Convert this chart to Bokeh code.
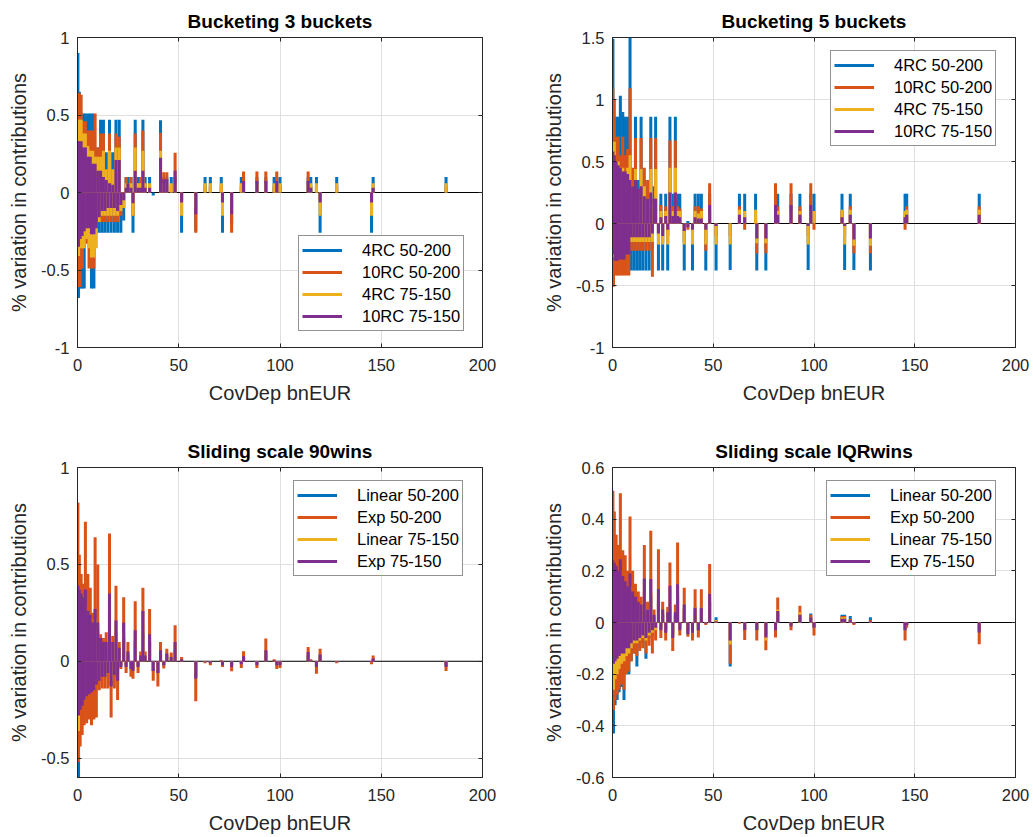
from bokeh.plotting import figure
from bokeh.layouts import column, row
from bokeh.models import (Range1d, FixedTicker, CustomJSTickFormatter, LinearAxis,
                          Span, Legend, LegendItem, ColumnDataSource)
from bokeh.embed import file_html
from bokeh.resources import INLINE

# ---------------- data ----------------
# CovDep (bnEUR) of each bank
bank_x = [0.2, 0.5, 0.9, 1.3, 1.8, 2.3, 2.8, 3.3, 3.9, 4.5, 5.1, 5.7, 6.3, 6.9, 7.5, 8.1, 8.7, 9.3,
          10.0, 10.7, 11.4, 12.1, 12.8, 13.5, 14.2, 15.0, 15.8, 16.6, 17.4, 18.2, 19.0, 19.8, 20.6, 21.4,
          22.8, 24.0, 24.9, 26.4, 27.4, 28.5, 29.9, 31.2, 32.3, 33.4, 35.6, 37.4, 39.7, 41.0, 42.6, 44.1,
          46.3, 48.2, 51.4, 58.4, 63.0, 65.6, 71.0, 71.6, 76.1, 80.9, 82.0, 88.6, 93.0, 97.1, 98.4, 100.0,
          113.9, 115.2, 118.0, 119.8, 128.0, 145.2, 146.0, 182.0]

# Panel 1: Bucketing 3 buckets
b3_4rc_50_200 = [.90, -.68, .65, -.62, .51, -.62, .51, -.62, .51, -.26, .51, -.26, .51, -.62, .51, -.62, .29, -.26,
                 .29, -.26, .47, -.26, .47, -.26, .26, -.26, .47, -.26, .26, -.26, .47, -.26, .47, -.26,
                 -.18, .1, .1, .1, -.26, .47, .1, .1, .47, .1, .1, -.02, 0, .466, .1, .1,
                 .1, .1, -.26, -.25, .1, .1, .1, -.26, -.2, .1, .1, .1, .1, .1, .1, .1,
                 .1, .1, .1, -.26, .1, -.26, .1, .1]
b3_10rc_50_200 = [.64, -.61, .64, -.61, .63, -.49, .46, -.33, .46, -.33, .40, -.49, .40, -.49, .40, -.49, .51, -.26,
                  .29, -.19, .38, -.19, .38, -.19, .12, -.19, .38, -.19, .12, -.19, .38, -.19, .36, -.15,
                  -.1, .1, .06, .1, -.15, .38, .06, .1, .4, .06, .04, 0, 0, .386, .13, .13,
                  .04, .257, -.05, -.26, .04, .04, .04, -.05, -.26, .04, .135, .135, .135, .04, .135, .04,
                  .135, .04, .04, -.05, .04, -.03, .03, .04]
b3_4rc_75_150 = [.47, -.41, .47, -.36, .47, -.36, .38, -.36, .38, -.30, .30, -.36, .27, -.42, .27, -.42, .23, -.36,
                 .23, -.19, .23, -.15, .27, -.15, .15, -.15, .27, -.15, .15, -.15, .29, -.15, .29, -.12,
                 -.1, .06, .06, .06, -.15, .29, .06, .06, .27, .06, .06, 0, 0, .27, .06, .06,
                 .06, .06, -.15, -.1, .06, .06, .06, -.15, -.1, .06, .06, .06, .06, .06, .06, .06,
                 .06, .06, .06, -.15, .06, -.15, .06, .06]
b3_10rc_75_150 = [.33, -.35, .33, -.30, .33, -.28, .29, -.25, .29, -.23, .23, -.23, .23, -.27, .185, -.27, .185, -.23,
                  .14, -.16, .14, -.12, .10, -.12, .08, -.10, .06, -.10, .05, -.10, .21, -.12, .21, -.08,
                  -.05, .03, .06, .03, -.07, .14, .03, .03, .14, .03, .03, 0, 0, .225, .085, .085,
                  0, .14, -.065, -.14, 0, 0, 0, -.065, -.14, 0, .075, .075, .075, 0, .075, 0,
                  .075, .03, 0, -.065, 0, -.065, .03, 0]

# Panel 2: Bucketing 5 buckets
b5_4rc_50_200 = [1.49, -.2, .86, -.2, .86, -.2, .86, -.2, 1.03, -.2, .9, -.2, .86, -.2, .86, -.2, 1.5, -.38,
                 .35, -.38, .86, -.38, .35, -.38, .86, -.38, .35, -.38, .3, -.38, .86, -.2, .3, .86,
                 -.38, .24, -.38, .24, -.38, .86, .24, .86, .24, .24, -.38, .02, -.38, .24, .24, .24,
                 -.38, .24, -.38, -.376, .24, .24, .24, -.38, -.38, .24, .24, .24, .24, -.376, .24, .24,
                 .24, -.376, .24, -.376, -.38, .24, .24, .24]
b5_10rc_50_200 = [1.09, -.51, 1.0, -.42, .7, -.42, .7, -.42, .55, -.42, .7, -.42, .55, -.42, .6, -.42, 1.09, -.22,
                  .45, -.22, .69, -.22, .25, -.22, .69, -.22, .45, -.22, .35, -.22, .69, -.43, .2, .69,
                  -.1, .15, -.15, .14, -.1, .67, .14, .67, .14, .12, -.15, -.05, -.15, .14, .14, .12,
                  -.22, .325, -.1, -.1, .14, -.05, .05, -.24, -.24, .325, .14, .325, .14, -.1, .325, -.05,
                  .1, -.1, .14, -.24, -.24, -.05, .14, .14]
b5_4rc_75_150 = [.66, -.27, .66, -.2, .5, -.2, .5, -.15, .45, -.15, .45, -.15, .4, -.15, .45, -.15, .55, -.15,
                 .3, -.15, .44, -.15, .2, -.15, .44, -.15, .3, -.15, .2, -.15, .44, -.15, .15, .44,
                 -.17, .1, -.17, .1, -.17, .45, .1, .45, .1, .1, -.17, -.02, -.17, .1, .08, .1,
                 -.17, .1, -.17, -.17, .11, .1, .11, -.16, -.16, .1, .1, .1, .1, -.17, .1, .1,
                 .11, -.17, .11, -.18, -.18, .1, .11, .11]
b5_10rc_75_150 = [.58, -.25, .55, -.3, .5, -.3, .47, -.29, .45, -.29, .42, -.29, .42, -.25, .4, -.25, .35, -.11,
                  .3, -.11, .35, -.11, .28, -.11, .3, -.11, .22, -.11, .2, -.11, .25, -.08, .2, .2,
                  -.08, .05, -.1, .06, -.05, .25, .06, .25, .06, .05, -.06, -.03, -.05, .05, .04, .04,
                  -.05, .15, -.02, 0, .07, .05, 0, -.12, -.12, .15, .07, .15, .07, -.02, .15, 0,
                  .05, -.02, .07, -.13, -.12, .05, .07, .07]

# Panel 3: Sliding scale 90wins
s90_lin_50_200 = [.3, -.62, .3, -.3, .25, -.25, .2, -.25, .25, -.2, .2, -.2, .2, -.15, .15, -.15, .2, -.12,
                  .15, -.1, .08, -.08, .08, -.08, .08, -.06, .25, -.12, .08, -.08, .15, -.1, .05, -.02,
                  .12, -.02, .03, -.03, -.04, .1, -.02, .02, .15, .02, .1, -.05, -.06, .04, -.02, .03,
                  .02, .06, .01, -.08, -.005, -.01, .002, -.01, -.02, -.01, .02, -.01, .05, .005, -.01, -.01,
                  .03, .005, -.02, .03, -.005, -.005, .01, -.02]
s90_exp_50_200 = [.82, -.52, .55, -.44, .45, -.38, .4, -.33, .72, -.32, .45, -.3, .38, -.33, .25, -.3, .64, -.29,
                  .5, -.15, .14, -.14, .12, -.14, .15, -.14, .66, -.29, .13, -.14, .39, -.2, .1, -.04,
                  .33, -.06, .1, -.08, -.09, .31, -.06, .05, .38, .05, .27, -.1, -.13, .1, -.038, .065,
                  .045, .186, .022, -.207, -.01, -.02, .005, -.03, -.052, -.035, .052, -.035, .117, .01, -.04, -.035,
                  .074, .01, -.064, .065, -.01, -.015, .03, -.05]
s90_lin_75_150 = [.35, -.36, .3, -.22, .3, -.2, .28, -.2, .3, -.17, .22, -.15, .22, -.14, .18, -.14, .22, -.1,
                  .17, -.09, .1, -.07, .1, -.07, .1, -.05, .3, -.1, .08, -.06, .18, -.08, .06, -.02,
                  .15, -.02, .04, -.03, -.04, .12, -.02, .02, .2, .02, .12, -.04, -.05, .05, -.01, .03,
                  .02, .08, .005, -.07, -.005, -.005, .002, -.01, -.02, -.01, .02, -.01, .05, .005, -.015, -.01,
                  .03, .005, -.02, .03, -.005, -.005, .01, -.015]
s90_exp_75_150 = [.39, -.28, .37, -.25, .35, -.23, .33, -.2, .37, -.18, .26, -.17, .24, -.16, .2, -.15, .27, -.12,
                  .2, -.1, .12, -.08, .1, -.08, .1, -.06, .35, -.13, .1, -.07, .21, -.1, .07, -.03,
                  .2, -.03, .05, -.04, -.05, .16, -.03, .03, .26, .03, .14, -.05, -.06, .057, -.02, .04,
                  .022, .1, .01, -.09, -.005, -.01, .003, -.02, -.03, -.015, .026, -.02, .057, .005, -.02, -.02,
                  .048, .005, -.03, .035, -.005, -.005, .014, -.03]

# Panel 4: Sliding scale IQRwins
iqr_lin_50_200 = [.15, -.43, .12, -.32, .12, -.3, .12, -.27, .15, -.25, .1, -.3, .1, -.2, .08, -.2, .1, -.15,
                  .07, -.12, .06, -.17, .05, -.1, .05, -.08, .1, -.14, .04, -.06, .1, -.05, .02, -.03,
                  .08, -.02, .03, -.03, .02, .06, -.04, .03, .1, -.02, .05, -.03, -.03, .05, -.03, .05,
                  -.005, .08, .02, -.17, -.002, -.03, 0, -.03, -.05, -.02, .04, -.01, .03, 0, .035, -.02,
                  .03, .03, .025, -.005, .02, -.03, -.01, -.03]
iqr_exp_50_200 = [.51, -.34, .43, -.3, .34, -.28, .3, -.26, .5, -.24, .28, -.26, .26, -.2, .2, -.19, .41, -.15,
                  .2, -.12, .15, -.13, .12, -.11, .1, -.1, .3, -.12, .08, -.09, .355, -.12, .05, -.07,
                  .284, -.06, .08, -.07, .06, .232, -.11, .07, .31, -.05, .135, -.055, -.07, .129, -.058, .129,
                  -.01, .226, .01, -.16, -.005, -.068, 0, -.07, -.107, -.058, .097, -.03, .065, 0, .03, -.05,
                  .025, .025, .015, -.01, .01, -.07, -.02, -.084]
iqr_lin_75_150 = [.2, -.26, .2, -.22, .18, -.2, .17, -.18, .2, -.16, .15, -.15, .14, -.13, .12, -.12, .14, -.1,
                  .1, -.08, .08, -.08, .07, -.07, .06, -.06, .12, -.07, .05, -.05, .12, -.04, .02, -.03,
                  .1, -.02, .04, -.03, .03, .08, -.05, .03, .12, -.02, .06, -.02, -.03, .06, -.02, .06,
                  -.005, .1, .01, -.085, -.002, -.03, 0, -.03, -.07, -.02, .05, -.01, .04, 0, .02, -.02,
                  .02, .02, .01, -.005, .005, -.03, -.01, -.04]
iqr_exp_75_150 = [.24, -.16, .23, -.15, .22, -.14, .2, -.13, .245, -.12, .18, -.12, .16, -.1, .14, -.1, .19, -.08,
                  .12, -.07, .1, -.07, .08, -.06, .07, -.05, .17, -.06, .05, -.04, .168, -.03, .03, -.02,
                  .13, -.03, .05, -.04, .04, .142, -.06, .04, .148, -.03, .07, -.045, -.04, .058, -.03, .058,
                  -.005, .11, .005, -.07, -.002, -.03, 0, -.03, -.058, -.03, .045, -.015, .03, 0, .02, -.02,
                  .015, .015, .01, -.005, .005, -.03, -.01, -.04]

bucket_labels = ["4RC 50-200", "10RC 50-200", "4RC 75-150", "10RC 75-150"]
sliding_labels = ["Linear 50-200", "Exp 50-200", "Linear 75-150", "Exp 75-150"]
x_ticks = [0, 50, 100, 150, 200]

# ---------------- styling ----------------
COLORS = ["#0072BD", "#D95319", "#EDB120", "#7E2F8E"]
FONT = "Liberation Sans"
TXT = "#262626"
GRID = "#dfdfdf"
BAR_W = 1.5


def make_panel(title, series, labels, yr, yticks, width, height, borders, leg_loc):
    left, right, top, bottom = borders
    p = figure(width=width, height=height, output_backend="svg", toolbar_location=None,
               x_range=Range1d(0, 200), y_range=Range1d(*yr),
               min_border_left=left, min_border_right=right,
               min_border_top=top, min_border_bottom=bottom,
               background_fill_color="white", border_fill_color="white")
    p.outline_line_color = TXT
    p.outline_line_width = 1
    p.title.text = title
    p.title.align = "center"
    p.title.text_font = FONT
    p.title.text_font_size = "19px"
    p.title.text_font_style = "bold"
    p.title.text_color = "black"
    p.title.standoff = 12

    fmt = CustomJSTickFormatter(code="return String(Math.round(tick*1000)/1000);")
    xa = p.xaxis[0]
    ya = p.yaxis[0]
    xa.ticker = FixedTicker(ticks=x_ticks)
    ya.ticker = FixedTicker(ticks=yticks)
    for ax in (xa, ya):
        ax.formatter = fmt
        ax.major_tick_in = 4
        ax.major_tick_out = 0
        ax.minor_tick_line_color = None
        ax.axis_line_color = TXT
        ax.major_tick_line_color = TXT
        ax.major_label_text_font = FONT
        ax.major_label_text_font_size = "16.5px"
        ax.major_label_text_color = TXT
        ax.axis_label_text_font = FONT
        ax.axis_label_text_font_size = "20px"
        ax.axis_label_text_font_style = "normal"
        ax.axis_label_text_color = TXT
    xa.axis_label = "CovDep bnEUR"
    ya.axis_label = "% variation in contributions"
    xa.major_label_standoff = 11
    ya.major_label_standoff = 8
    xa.axis_label_standoff = 8
    ya.axis_label_standoff = 8

    # mirrored ticks on the top and right edges (no labels)
    ax_r = LinearAxis(ticker=FixedTicker(ticks=yticks), major_label_text_font_size="1px",
                      major_label_text_color=None,
                      major_tick_in=4, major_tick_out=0, minor_tick_line_color=None,
                      axis_line_color=None, major_tick_line_color=TXT, major_label_standoff=0)
    p.add_layout(ax_r, "right")
    ax_t = LinearAxis(ticker=FixedTicker(ticks=x_ticks), major_label_text_font_size="1px",
                      major_label_text_color=None,
                      major_tick_in=4, major_tick_out=0, minor_tick_line_color=None,
                      axis_line_color=None, major_tick_line_color=TXT, major_label_standoff=0)
    p.add_layout(ax_t, "above")

    p.xgrid.ticker = FixedTicker(ticks=x_ticks)
    p.ygrid.ticker = FixedTicker(ticks=yticks)
    p.grid.grid_line_color = GRID
    p.grid.grid_line_width = 1

    p.add_layout(Span(location=0, dimension="width", line_color="#000000",
                      line_width=1, level="underlay"))

    for vals, c in zip(series, COLORS):
        src = ColumnDataSource(dict(x=bank_x, top=vals))
        p.vbar(x="x", top="top", bottom=0, width=BAR_W, source=src,
               fill_color=c, line_color=None)

    # legend samples: line renderers placed outside the visible x range
    items = []
    for lab, c in zip(labels, COLORS):
        r = p.line(x=[-50, -40], y=[0, 0], line_color=c, line_width=3)
        items.append(LegendItem(label=lab, renderers=[r]))
    leg = Legend(items=items, location=leg_loc)
    leg.border_line_color = TXT
    leg.border_line_width = 1
    leg.background_fill_color = "white"
    leg.background_fill_alpha = 1
    leg.label_text_font = FONT
    leg.label_text_font_size = "16.5px"
    leg.label_text_color = "black"
    leg.glyph_width = 40
    leg.glyph_height = 22
    leg.label_height = 22
    leg.label_standoff = 20
    leg.spacing = 0
    leg.padding = 3
    leg.margin = 0
    p.add_layout(leg)
    return p


p1 = make_panel("Bucketing 3 buckets",
                [b3_4rc_50_200, b3_10rc_50_200, b3_4rc_75_150, b3_10rc_75_150],
                bucket_labels, (-1, 1), [-1, -0.5, 0, 0.5, 1],
                520, 410, (77, 38, 37, 63), (221, 16))
p2 = make_panel("Bucketing 5 buckets",
                [b5_4rc_50_200, b5_10rc_50_200, b5_4rc_75_150, b5_10rc_75_150],
                bucket_labels, (-1, 1.5), [-1, -0.5, 0, 0.5, 1, 1.5],
                513, 410, (92, 18, 37, 63), (218, 201))
p3 = make_panel("Sliding scale 90wins",
                [s90_lin_50_200, s90_exp_50_200, s90_lin_75_150, s90_exp_75_150],
                sliding_labels, (-0.6, 1), [-0.5, 0, 0.5, 1],
                520, 427, (77, 38, 57, 60), (216, 201))
p4 = make_panel("Sliding scale IQRwins",
                [iqr_lin_50_200, iqr_exp_50_200, iqr_lin_75_150, iqr_exp_75_150],
                sliding_labels, (-0.6, 0.6), [-0.6, -0.4, -0.2, 0, 0.2, 0.4, 0.6],
                513, 427, (92, 18, 57, 60), (214, 201))

layout = column(row(p1, p2, spacing=0), row(p3, p4, spacing=0), spacing=0)

with open("out.html", "w") as f:
    f.write(file_html(layout, INLINE))
